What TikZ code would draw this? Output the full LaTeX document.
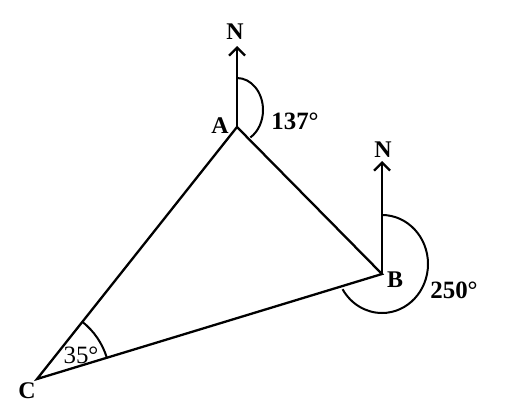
\documentclass[tikz,border=0pt]{standalone}
\usepackage{fontspec}
\setmainfont{Liberation Serif}
\usetikzlibrary{arrows.meta,angles}
\begin{document}
\begin{tikzpicture}[x=1bp,y=1bp,
  edge/.style={line width=2.3bp},
  north/.style={line width=2.3bp,-{Straight Barb[length=8bp,width=16bp,line width=2.3bp]}},
  lbl/.style={font=\fontsize{24}{26}\selectfont\bfseries,inner sep=0pt},
  ang/.style={font=\fontsize{25}{27}\selectfont\bfseries,inner sep=0pt},
  arcline/.style={line width=2bp}]
\useasboundingbox (0,0) rectangle (518,412);
\coordinate (A) at (237,285);
\coordinate (B) at (382,138);
\coordinate (C) at (37,33);
\coordinate (NA) at (237,366);
\coordinate (NB) at (382,251);
% triangle
\draw[edge,line join=miter] (A) -- (B) -- (C) -- cycle;
% north arrows
\draw[north] (A) -- (NA);
\draw[north] (B) -- (NB);
\node[lbl] (nA) at (235,380) {N};
\node[lbl] (nB) at (383,262) {N};
% bearing arcs
\draw[arcline] (237,334) arc[start angle=90,end angle=-59,x radius=26,y radius=32];
\draw[arcline] (382,197) arc[start angle=90,end angle=-149,x radius=46,y radius=49];
\pic[draw,arcline,angle radius=73bp] {angle=B--C--A};
% labels
\node[lbl] (lA) at (220,286) {A};
\node[lbl] (lB) at (395,132) {B};
\node[lbl] (lC) at (27,21) {C};
\node[ang] (a1) at (295,291) {137°};
\node[ang] (a2) at (454,122) {250°};
\node[ang,font=\fontsize{25}{27}\selectfont] (a3) at (81,57) {35°};
\end{tikzpicture}
\end{document}
